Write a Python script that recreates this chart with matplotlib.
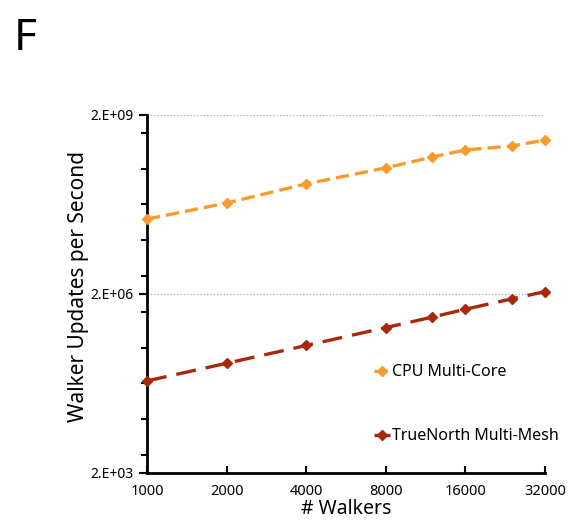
import matplotlib.pyplot as plt
import numpy as np

plt.rcParams['font.family'] = ['Noto Sans', 'DejaVu Sans']

walkers = [1000, 2000, 4000, 8000, 12000, 16000, 24000, 32000]
cpu = [3.6e7, 6.7e7, 1.4e8, 2.6e8, 3.95e8, 5.2e8, 6.05e8, 7.6e8]
truenorth = [7.0e4, 1.38e5, 2.74e5, 5.47e5, 8.2e5, 1.11e6, 1.66e6, 2.19e6]

xticks = [1000, 2000, 4000, 8000, 16000, 32000]
yticks = [2e3, 2e6, 2e9]
ylabels = ['2.E+03', '2.E+06', '2.E+09']

fig = plt.figure(figsize=(5.68, 5.28), dpi=100)
ax = fig.add_axes([0.2588, 0.1042, 0.7007, 0.678])

ax.plot(walkers, cpu, color='#F99B2C', lw=2.4, dashes=(4, 1.8),
        marker='D', ms=5.5, label='CPU Multi-Core', clip_on=False, zorder=3)
ax.plot(walkers, truenorth, color='#A8280C', lw=2.4, dashes=(6, 3),
        marker='D', ms=5.5, label='TrueNorth Multi-Mesh', clip_on=False, zorder=3)

ax.set_xscale('log', base=2)
ax.set_yscale('log')
ax.set_xlim(1000, 32000)
ax.set_ylim(2e3, 2e9)

ax.set_xticks(xticks)
ax.set_xticklabels([str(v) for v in xticks], fontsize=10.5)
ax.xaxis.set_minor_locator(plt.NullLocator())
ax.set_yticks(yticks)
ax.set_yticklabels(ylabels, fontsize=10)
minor = [2e3 * 1000 ** (k + f) for k in range(2) for f in (0.1, 0.3, 0.5, 0.7, 0.9)]
ax.set_yticks(minor, minor=True)
ax.yaxis.set_minor_formatter(plt.NullFormatter())

ax.tick_params(axis='x', direction='in', length=5, width=1.5, pad=8)
ax.tick_params(axis='y', which='major', direction='out', length=6, width=1.5)
ax.tick_params(axis='y', which='minor', direction='out', length=4, width=1.5)

for s in ['top', 'right']:
    ax.spines[s].set_visible(False)
for s in ['left', 'bottom']:
    ax.spines[s].set_linewidth(2)

ax.grid(axis='y', which='major', color='#AAAAAA', linestyle=':', lw=0.9)
ax.set_axisbelow(True)

ax.set_xlabel('# Walkers', fontsize=14, labelpad=0)
ax.set_ylabel('Walker Updates per Second', fontsize=15)
ax.yaxis.set_label_coords(-0.145, 0.52)

ax.legend(loc='lower right', bbox_to_anchor=(1.07, 0.04), frameon=False, fontsize=11.5,
          handlelength=1.0, handletextpad=0.1, labelspacing=3.0, markerscale=1.0)

fig.text(0.025, 0.905, 'F', fontsize=32)

fig.savefig('out.png', dpi=100)
